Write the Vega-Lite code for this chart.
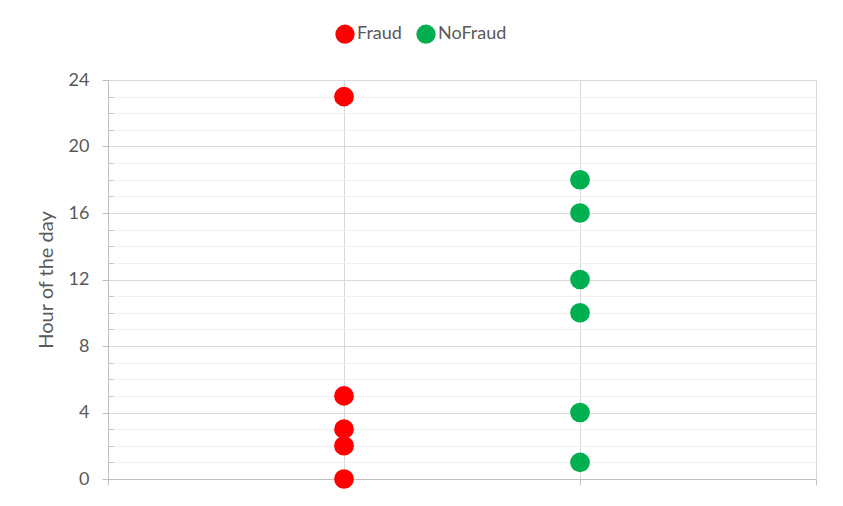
{
  "$schema": "https://vega.github.io/schema/vega-lite/v6.json",
  "width": 708,
  "height": 399,
  "autosize": {"type": "none"},
  "padding": {"left": 108, "top": 80, "right": 27, "bottom": 27},
  "background": "white",
  "config": {"view": {"stroke": null}, "font": "Lato"},
  "data": {
    "values": [
      {"Class": "Fraud", "x": 1, "Hour": 23},
      {"Class": "Fraud", "x": 1, "Hour": 5},
      {"Class": "Fraud", "x": 1, "Hour": 3},
      {"Class": "Fraud", "x": 1, "Hour": 2},
      {"Class": "Fraud", "x": 1, "Hour": 0},
      {"Class": "NoFraud", "x": 2, "Hour": 18},
      {"Class": "NoFraud", "x": 2, "Hour": 16},
      {"Class": "NoFraud", "x": 2, "Hour": 12},
      {"Class": "NoFraud", "x": 2, "Hour": 10},
      {"Class": "NoFraud", "x": 2, "Hour": 4},
      {"Class": "NoFraud", "x": 2, "Hour": 1}
    ]
  },
  "layer": [
    {
      "mark": {"type": "point", "opacity": 0},
      "encoding": {
        "x": {
          "field": "x", "type": "quantitative",
          "scale": {"domain": [0, 3], "nice": false, "zero": false},
          "axis": {
            "values": [0, 1, 2, 3], "grid": true, "gridColor": "#d9d9d9",
            "labels": false, "title": null,
            "domainColor": "#bfbfbf", "tickColor": "#bfbfbf", "tickSize": 6
          }
        },
        "y": {
          "field": "Hour", "type": "quantitative",
          "scale": {"domain": [0, 24], "nice": false},
          "axis": {
            "orient": "left",
            "values": [0,1,2,3,5,6,7,9,10,11,13,14,15,17,18,19,21,22,23],
            "grid": true, "gridColor": "#f0f0f0", "gridWidth": 1,
            "labels": false, "domain": false,
            "ticks": true, "tickSize": -5, "tickColor": "#bfbfbf",
            "title": null
          }
        }
      }
    },
    {
      "mark": {"type": "circle", "size": 390, "opacity": 1},
      "encoding": {
        "x": {
          "field": "x", "type": "quantitative",
          "scale": {"domain": [0, 3], "nice": false, "zero": false},
          "axis": {
            "values": [0, 1, 2, 3], "grid": true, "gridColor": "#d9d9d9",
            "labels": false, "title": null,
            "domainColor": "#bfbfbf", "tickColor": "#bfbfbf", "tickSize": 6
          }
        },
        "y": {
          "field": "Hour", "type": "quantitative",
          "scale": {"domain": [0, 24], "nice": false},
          "axis": {
            "orient": "left",
            "values": [0, 4, 8, 12, 16, 20, 24],
            "grid": true, "gridColor": "#d9d9d9",
            "labelFontSize": 18, "labelColor": "#595959", "labelPadding": 13,
            "title": "Hour of the day", "titleFontSize": 20, "titleFontWeight": "normal",
            "titleColor": "#595959", "titlePadding": 12,
            "domainColor": "#bfbfbf", "tickColor": "#bfbfbf", "tickSize": 6
          }
        },
        "color": {
          "field": "Class", "type": "nominal",
          "scale": {"domain": ["Fraud", "NoFraud"], "range": ["#ff0000", "#00b050"]},
          "legend": {
            "orient": "none", "legendX": 227, "legendY": -56,
            "direction": "horizontal", "title": null,
            "labelFontSize": 18, "labelColor": "#595959",
            "symbolType": "circle", "symbolSize": 370, "symbolStrokeWidth": 0,
            "symbolOpacity": 1,
            "columnPadding": 14, "labelOffset": 2
          }
        }
      }
    }
  ],
  "resolve": {"axis": {"y": "independent"}}
}
